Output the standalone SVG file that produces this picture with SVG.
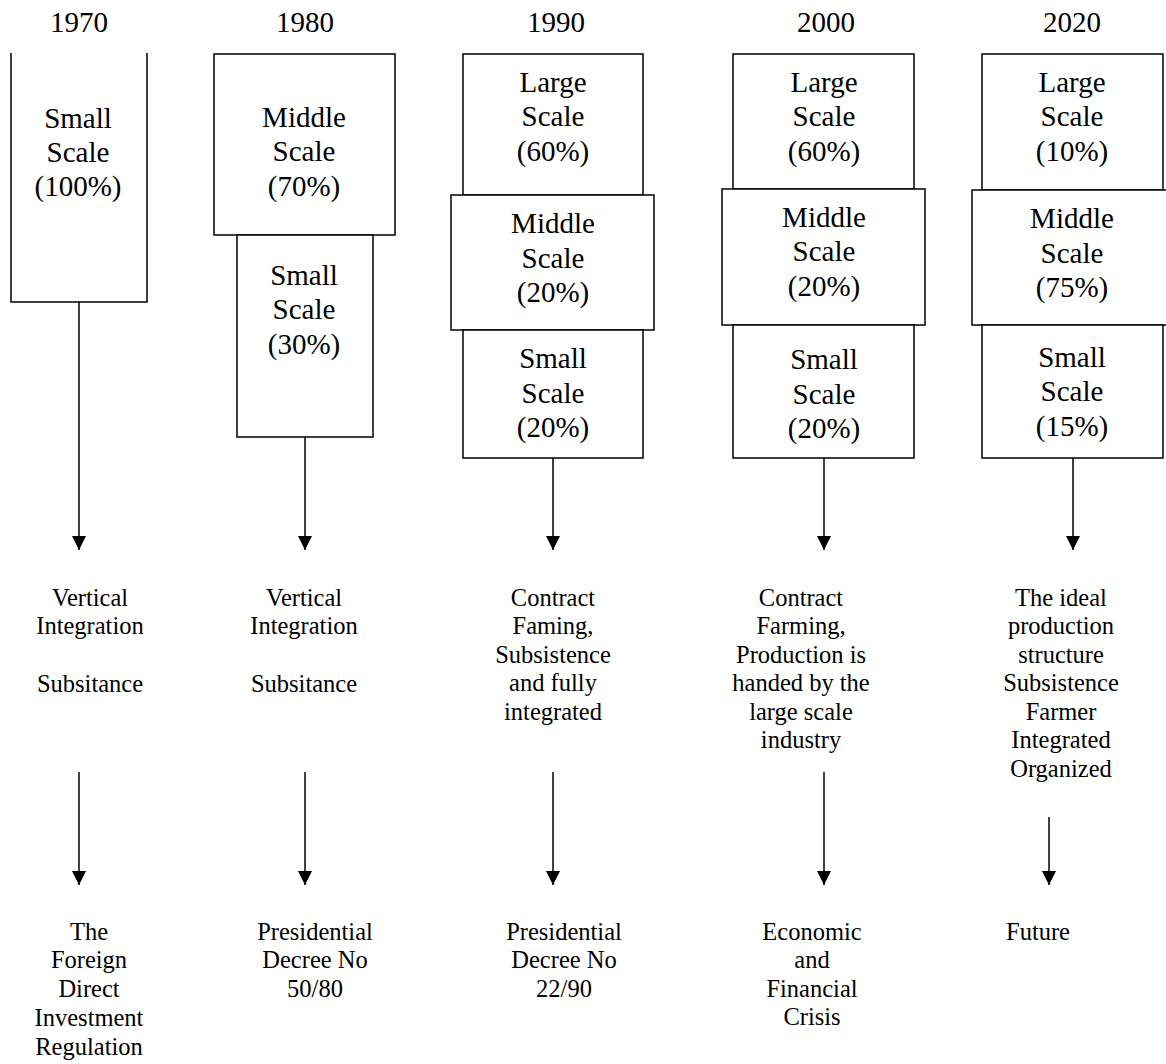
<svg xmlns="http://www.w3.org/2000/svg" width="1166" height="1064" viewBox="0 0 1166 1064" font-family="'Liberation Serif', 'DejaVu Serif', serif">
<style>
  .box { fill: #ffffff; stroke: #000000; stroke-width: 1.5; }
  text { font-family: 'Liberation Serif', 'DejaVu Serif', serif; fill: #000000; text-anchor: middle; }
  .t { font-size: 29px; }
  .s { font-size: 24.5px; }
  .arr { stroke: #000000; stroke-width: 1.5; fill: none; marker-end: url(#head); }
</style>
<defs>
  <marker id="head" markerUnits="userSpaceOnUse" markerWidth="15" markerHeight="14" refX="14" refY="7" orient="auto">
    <path d="M0,0 L14,7 L0,14 z" fill="#000000"/>
  </marker>
</defs>
<rect width="1166" height="1064" fill="#ffffff"/>

<g id="years">
  <text class="t" x="79" y="32">1970</text>
  <text class="t" x="305" y="32">1980</text>
  <text class="t" x="556" y="32">1990</text>
  <text class="t" x="826" y="32">2000</text>
  <text class="t" x="1072" y="32">2020</text>
</g>

<g id="connectors">
  <line class="arr" x1="79" y1="302" x2="79" y2="550"/>
  <line class="arr" x1="79" y1="772" x2="79" y2="885"/>
  <line class="arr" x1="305" y1="437" x2="305" y2="550"/>
  <line class="arr" x1="305" y1="772" x2="305" y2="885"/>
  <line class="arr" x1="553" y1="458" x2="553" y2="550"/>
  <line class="arr" x1="553" y1="772" x2="553" y2="885"/>
  <line class="arr" x1="824" y1="458" x2="824" y2="550"/>
  <line class="arr" x1="824" y1="772" x2="824" y2="885"/>
  <line class="arr" x1="1073" y1="458" x2="1073" y2="550"/>
  <line class="arr" x1="1049" y1="817" x2="1049" y2="885"/>
</g>

<g id="n1970-small">
  <path class="box" d="M11,53 L11,302 L147,302 L147,53"/>
  <text class="t" x="78" y="128">Small</text>
  <text class="t" x="78" y="162">Scale</text>
  <text class="t" x="78" y="196">(100%)</text>
</g>

<g id="n1980-middle">
  <rect class="box" x="214" y="54" width="181" height="181"/>
  <text class="t" x="304" y="127">Middle</text>
  <text class="t" x="304" y="161">Scale</text>
  <text class="t" x="304" y="196">(70%)</text>
</g>
<g id="n1980-small">
  <rect class="box" x="237" y="235" width="136" height="202"/>
  <text class="t" x="304" y="285">Small</text>
  <text class="t" x="304" y="319">Scale</text>
  <text class="t" x="304" y="354">(30%)</text>
</g>

<g id="n1990-large">
  <rect class="box" x="463" y="54" width="180" height="141"/>
  <text class="t" x="553" y="92">Large</text>
  <text class="t" x="553" y="126">Scale</text>
  <text class="t" x="553" y="161">(60%)</text>
</g>
<g id="n1990-middle">
  <rect class="box" x="451" y="195" width="203" height="135"/>
  <text class="t" x="553" y="233">Middle</text>
  <text class="t" x="553" y="268">Scale</text>
  <text class="t" x="553" y="302">(20%)</text>
</g>
<g id="n1990-small">
  <rect class="box" x="463" y="330" width="180" height="128"/>
  <text class="t" x="553" y="368">Small</text>
  <text class="t" x="553" y="403">Scale</text>
  <text class="t" x="553" y="437">(20%)</text>
</g>

<g id="n2000-large">
  <rect class="box" x="733" y="54" width="181" height="135"/>
  <text class="t" x="824" y="92">Large</text>
  <text class="t" x="824" y="126">Scale</text>
  <text class="t" x="824" y="161">(60%)</text>
</g>
<g id="n2000-middle">
  <rect class="box" x="722" y="189" width="203" height="136"/>
  <text class="t" x="824" y="227">Middle</text>
  <text class="t" x="824" y="261">Scale</text>
  <text class="t" x="824" y="296">(20%)</text>
</g>
<g id="n2000-small">
  <rect class="box" x="733" y="325" width="181" height="133"/>
  <text class="t" x="824" y="369">Small</text>
  <text class="t" x="824" y="404">Scale</text>
  <text class="t" x="824" y="438">(20%)</text>
</g>

<g id="n2020-large">
  <rect class="box" x="982" y="54" width="181" height="136"/>
  <text class="t" x="1072" y="92">Large</text>
  <text class="t" x="1072" y="126">Scale</text>
  <text class="t" x="1072" y="161">(10%)</text>
</g>
<g id="n2020-middle">
  <rect class="box" x="972" y="190" width="200" height="135"/>
  <text class="t" x="1072" y="228">Middle</text>
  <text class="t" x="1072" y="263">Scale</text>
  <text class="t" x="1072" y="297">(75%)</text>
</g>
<g id="n2020-small">
  <rect class="box" x="982" y="325" width="181" height="133"/>
  <text class="t" x="1072" y="367">Small</text>
  <text class="t" x="1072" y="401">Scale</text>
  <text class="t" x="1072" y="436">(15%)</text>
</g>

<g id="l1970-structure">
  <text class="s" x="90" y="606">Vertical</text>
  <text class="s" x="90" y="634">Integration</text>
  <text class="s" x="90" y="692">Subsitance</text>
</g>
<g id="l1980-structure">
  <text class="s" x="304" y="606">Vertical</text>
  <text class="s" x="304" y="634">Integration</text>
  <text class="s" x="304" y="692">Subsitance</text>
</g>
<g id="l1990-structure">
  <text class="s" x="553" y="606">Contract</text>
  <text class="s" x="553" y="634">Faming,</text>
  <text class="s" x="553" y="663">Subsistence</text>
  <text class="s" x="553" y="691">and fully</text>
  <text class="s" x="553" y="720">integrated</text>
</g>
<g id="l2000-structure">
  <text class="s" x="801" y="606">Contract</text>
  <text class="s" x="801" y="634">Farming,</text>
  <text class="s" x="801" y="663">Production is</text>
  <text class="s" x="801" y="691">handed by the</text>
  <text class="s" x="801" y="720">large scale</text>
  <text class="s" x="801" y="748">industry</text>
</g>
<g id="l2020-structure">
  <text class="s" x="1061" y="606">The ideal</text>
  <text class="s" x="1061" y="634">production</text>
  <text class="s" x="1061" y="663">structure</text>
  <text class="s" x="1061" y="691">Subsistence</text>
  <text class="s" x="1061" y="720">Farmer</text>
  <text class="s" x="1061" y="748">Integrated</text>
  <text class="s" x="1061" y="777">Organized</text>
</g>

<g id="l1970-law">
  <text class="s" x="89" y="940">The</text>
  <text class="s" x="89" y="968">Foreign</text>
  <text class="s" x="89" y="997">Direct</text>
  <text class="s" x="89" y="1026">Investment</text>
  <text class="s" x="89" y="1055">Regulation</text>
</g>
<g id="l1980-law">
  <text class="s" x="315" y="940">Presidential</text>
  <text class="s" x="315" y="968">Decree No</text>
  <text class="s" x="315" y="997">50/80</text>
</g>
<g id="l1990-law">
  <text class="s" x="564" y="940">Presidential</text>
  <text class="s" x="564" y="968">Decree No</text>
  <text class="s" x="564" y="997">22/90</text>
</g>
<g id="l2000-law">
  <text class="s" x="812" y="940">Economic</text>
  <text class="s" x="812" y="968">and</text>
  <text class="s" x="812" y="997">Financial</text>
  <text class="s" x="812" y="1025">Crisis</text>
</g>
<g id="l2020-law">
  <text class="s" x="1038" y="940">Future</text>
</g>
</svg>
